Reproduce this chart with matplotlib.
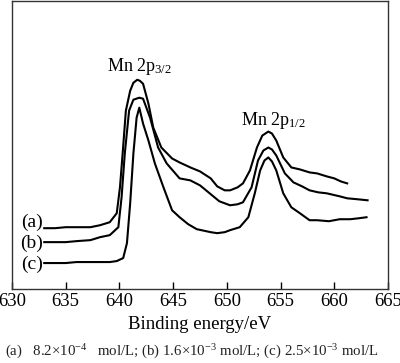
import matplotlib
matplotlib.use('Agg')
import matplotlib.pyplot as plt

plt.rcParams['font.family'] = ['Liberation Serif', 'DejaVu Serif']
plt.rcParams['mathtext.fontset'] = 'custom'
plt.rcParams['mathtext.rm'] = 'Liberation Serif'
plt.rcParams['mathtext.it'] = 'Liberation Serif:italic'

# XPS Mn 2p spectra, intensity in arbitrary units
energy_a = [633.0, 634.0, 635.0, 636.0, 637.3, 638.2, 639.1, 639.75, 640.05, 640.3,
            640.6, 641.0, 641.3, 641.66, 641.9, 642.2, 642.7, 643.15, 643.9, 644.9,
            645.6, 646.6, 647.5, 648.5, 649.1, 649.8, 650.3, 651.0, 651.5, 652.15,
            652.8, 653.3, 653.86, 654.2, 654.6, 655.25, 656.0, 656.8, 657.7, 658.4,
            659.3, 660.0, 660.6, 661.2]
inten_a = [61, 61, 62, 62, 62, 64, 67, 76, 102, 136,
           179, 199, 207, 210, 209, 206, 186, 162, 142, 131,
           127, 122, 118, 111, 103, 99, 99, 102, 106, 119,
           142, 154, 158, 156, 149, 132, 122, 120, 117, 116,
           113, 111, 108, 106]

energy_b = [633.0, 634.0, 635.0, 636.0, 637.3, 638.2, 639.1, 639.9, 640.2, 640.5,
            640.9, 641.3, 641.85, 642.2, 642.85, 643.6, 644.4, 645.6, 646.6, 647.5,
            648.4, 649.3, 650.3, 651.0, 651.5, 652.3, 652.9, 653.4, 653.86, 654.2,
            654.6, 655.4, 656.2, 657.0, 657.7, 658.5, 659.3, 660.5, 661.2, 662.2,
            663.1]
inten_b = [47, 47, 47, 48, 49, 52, 54, 62, 92, 136,
           179, 190, 192, 191, 172, 142, 126, 111, 109, 104,
           96, 88, 84, 85, 87, 102, 129, 139, 142, 140,
           134, 116, 107, 103, 99, 97, 96, 93, 91, 90,
           89]

energy_c = [633.0, 634.0, 635.0, 636.0, 637.3, 638.2, 639.1, 639.75, 640.35, 640.7,
            641.0, 641.3, 641.6, 641.85, 642.2, 642.7, 643.3, 644.1, 644.9, 645.6,
            646.4, 647.2, 648.5, 649.1, 649.8, 650.3, 651.2, 652.0, 652.6, 653.1,
            653.5, 653.86, 654.2, 654.6, 655.25, 656.0, 656.8, 657.7, 658.4, 659.5,
            660.5, 661.5, 662.3, 663.0]
inten_c = [26, 26, 26, 27, 27, 27, 27, 28, 31, 46,
           86, 136, 172, 182, 166, 149, 126, 102, 79, 72,
           65, 60, 57, 56, 57, 59, 62, 72, 96, 119,
           129, 132, 128, 119, 96, 82, 76, 69, 69, 68,
           70, 70, 71, 72]

series_labels = ['(a)', '(b)', '(c)']
label_y = [67, 46, 25]
caption = (r'(a)   8.2$\times$10$^{-4}$   mol/L; (b) 1.6$\times$10$^{-3}$ mol/L; '
           r'(c) 2.5$\times$10$^{-3}$ mol/L')

fig = plt.figure(figsize=(4.0, 3.63), dpi=100)
ax = fig.add_axes([0.03, 0.204, 0.94, 0.793])

for xs, ys, lab, ly in zip([energy_a, energy_b, energy_c],
                           [inten_a, inten_b, inten_c], series_labels, label_y):
    ax.plot(xs, ys, color='black', lw=1.5, solid_joinstyle='round')
    ax.text(632.9, ly, lab, ha='right', va='center', fontsize=14)

ax.text(641.9, 223, r'Mn 2p$_{3/2}$', ha='center', va='center', fontsize=13)
ax.text(654.3, 169, r'Mn 2p$_{1/2}$', ha='center', va='center', fontsize=13)

ax.set_xlim(630, 665)
ax.set_ylim(0, 289)
ax.set_xticks(range(630, 666, 5))
ax.set_yticks([])
ax.tick_params(axis='x', direction='in', length=5, width=1, labelsize=13.5, pad=3)
for sp in ax.spines.values():
    sp.set_linewidth(1.0)
    sp.set_color('#333333')
ax.set_xlabel('Binding energy/eV', fontsize=13.5, labelpad=4)

fig.text(0.48, 0.03, caption, ha='center', va='center', fontsize=10.7, color='#222222')

fig.savefig('out.png', dpi=100)
